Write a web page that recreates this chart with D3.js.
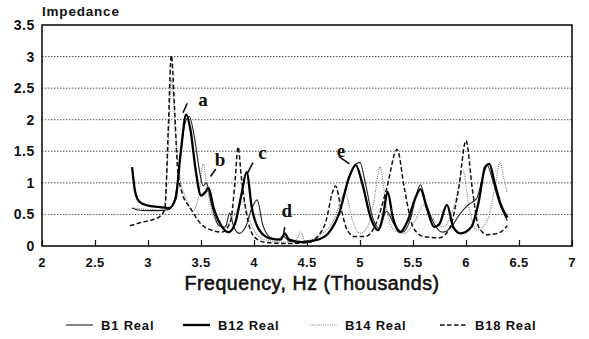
<!DOCTYPE html>
<html>
<head>
<meta charset="utf-8">
<script src="https://cdn.jsdelivr.net/npm/d3@7"></script>
<style>
  body { margin: 0; background: #fff; }
  svg { display: block; }
</style>
</head>
<body>
<div id="chart"></div>
<script>
// frequency in thousands of Hz, impedance
const b1Freq = [2.85, 2.9, 3.0, 3.1, 3.2, 3.26, 3.31, 3.35, 3.39, 3.44, 3.49, 3.52, 3.55, 3.6, 3.67, 3.73, 3.77, 3.81, 3.86, 3.92, 3.98, 4.03, 4.08, 4.15, 4.22, 4.28, 4.33, 4.45, 4.6, 4.7, 4.8, 4.9, 4.96, 5.0, 5.05, 5.12, 5.18, 5.25, 5.32, 5.4, 5.48, 5.53, 5.57, 5.62, 5.7, 5.78, 5.86, 5.94, 6.02, 6.1, 6.16, 6.2, 6.25, 6.31, 6.39];
const b1Val  = [0.6, 0.57, 0.56, 0.56, 0.58, 0.8, 1.5, 1.95, 2.05, 1.7, 1.15, 0.95, 1.0, 0.65, 0.32, 0.3, 0.52, 0.3, 0.2, 0.3, 0.6, 0.73, 0.35, 0.14, 0.1, 0.15, 0.08, 0.06, 0.1, 0.2, 0.5, 1.1, 1.3, 1.32, 1.0, 0.45, 0.28, 0.55, 0.35, 0.22, 0.45, 0.8, 0.97, 0.7, 0.35, 0.22, 0.3, 0.5, 0.65, 0.75, 1.1, 1.28, 1.05, 0.7, 0.4];

const b12Freq = [2.85, 2.88, 2.92, 3.0, 3.1, 3.2, 3.26, 3.31, 3.36, 3.4, 3.45, 3.5, 3.54, 3.57, 3.62, 3.7, 3.76, 3.82, 3.88, 3.93, 3.98, 4.05, 4.15, 4.25, 4.29, 4.33, 4.45, 4.6, 4.7, 4.8, 4.9, 4.96, 5.02, 5.1, 5.17, 5.22, 5.26, 5.31, 5.38, 5.45, 5.52, 5.57, 5.63, 5.7, 5.75, 5.82, 5.88, 5.95, 6.05, 6.12, 6.18, 6.22, 6.27, 6.33, 6.39];
const b12Val  = [1.25, 0.85, 0.7, 0.64, 0.62, 0.6, 0.75, 1.5, 2.08, 1.85, 1.2, 0.8, 0.85, 0.92, 0.6, 0.3, 0.22, 0.35, 0.8, 1.17, 0.6, 0.25, 0.12, 0.1, 0.2, 0.1, 0.06, 0.1, 0.2, 0.5, 1.1, 1.28, 1.0, 0.45, 0.25, 0.5, 0.86, 0.45, 0.22, 0.4, 0.75, 0.9, 0.6, 0.3, 0.35, 0.65, 0.3, 0.2, 0.3, 0.7, 1.25, 1.3, 1.0, 0.65, 0.45];

const b14Freq = [2.85, 3.0, 3.1, 3.15, 3.19, 3.22, 3.26, 3.3, 3.36, 3.42, 3.48, 3.52, 3.56, 3.62, 3.7, 3.78, 3.85, 3.9, 3.95, 4.0, 4.1, 4.3, 4.4, 4.44, 4.48, 4.6, 4.75, 4.86, 4.93, 5.0, 5.07, 5.13, 5.19, 5.25, 5.32, 5.42, 5.52, 5.6, 5.68, 5.78, 5.9, 5.97, 6.03, 6.1, 6.2, 6.27, 6.32, 6.36, 6.39];
const b14Val  = [0.6, 0.58, 0.57, 0.62, 1.5, 2.65, 1.8, 1.1, 0.75, 0.55, 0.8, 1.3, 0.9, 0.45, 0.3, 0.4, 0.6, 0.7, 0.45, 0.25, 0.1, 0.06, 0.1, 0.22, 0.08, 0.15, 0.4, 0.84, 0.4, 0.2, 0.3, 0.7, 1.25, 0.6, 0.25, 0.2, 0.4, 0.65, 0.45, 0.3, 0.7, 1.2, 0.6, 0.25, 0.4, 0.9, 1.33, 1.05, 0.84];

const b18Freq = [2.83, 2.95, 3.05, 3.12, 3.16, 3.19, 3.22, 3.25, 3.28, 3.32, 3.4, 3.5, 3.6, 3.7, 3.78, 3.82, 3.85, 3.88, 3.93, 4.0, 4.1, 4.3, 4.5, 4.6, 4.68, 4.74, 4.77, 4.82, 4.88, 4.95, 5.05, 5.15, 5.25, 5.35, 5.42, 5.5, 5.6, 5.75, 5.85, 5.93, 6.0, 6.06, 6.12, 6.2, 6.3, 6.39];
const b18Val  = [0.32, 0.38, 0.42, 0.48, 0.6, 1.8, 3.02, 2.2, 1.2, 0.85, 0.6, 0.35, 0.25, 0.22, 0.4, 1.0, 1.57, 1.1, 0.5, 0.15, 0.06, 0.04, 0.05, 0.15, 0.4, 0.85, 0.95, 0.6, 0.25, 0.15, 0.15, 0.35, 0.9, 1.53, 0.9, 0.3, 0.15, 0.13, 0.3, 0.9, 1.67, 0.9, 0.3, 0.18, 0.2, 0.32];

const xTicks = [2, 2.5, 3, 3.5, 4, 4.5, 5, 5.5, 6, 6.5, 7];
const yTicks = [0, 0.5, 1, 1.5, 2, 2.5, 3, 3.5];

const seriesNames = ["B1 Real", "B12 Real", "B14 Real", "B18 Real"];

// peak labels: letter, label position, pointer stroke
const noteText  = ["a", "b", "c", "d", "e"];
const noteAt    = [[3.52, 2.32], [3.68, 1.37], [4.08, 1.49], [4.31, 0.57], [4.82, 1.52]];
const notePoint = [[[3.33, 2.11], [3.37, 2.26]], [[3.59, 1.1], [3.64, 1.22]], [[3.94, 1.16], [3.99, 1.32]], [[4.28, 0.2], [4.29, 0.3]], [[4.8, 1.42], [4.9, 1.3]]];

const width = 589, height = 339;
const margin = {top: 25, right: 17, bottom: 93, left: 42};

const svg = d3.select("#chart").append("svg")
  .attr("width", width)
  .attr("height", height)
  .style("font-family", "'Liberation Sans', Arial, sans-serif");

const x = d3.scaleLinear().domain([2, 7]).range([margin.left, width - margin.right]);
const y = d3.scaleLinear().domain([0, 3.5]).range([height - margin.bottom, margin.top]);

// dotted grid lines
svg.append("g")
  .selectAll("line")
  .data(yTicks.filter(d => d > 0 && d < 3.5))
  .join("line")
  .attr("x1", x(2)).attr("x2", x(7))
  .attr("y1", d => y(d)).attr("y2", d => y(d))
  .attr("stroke", "#555")
  .attr("stroke-width", 1)
  .attr("stroke-dasharray", "1.5,1.5");

// inner ticks on the bottom axis
svg.append("g")
  .attr("transform", `translate(0, ${y(0)})`)
  .call(d3.axisBottom(x).tickValues(xTicks).tickSize(-6).tickFormat(""))
  .call(g => g.select(".domain").remove())
  .selectAll("line").attr("stroke", "#111").attr("stroke-width", 1.2);

const line = (fs, vs) => d3.line()
  .x((d, i) => x(fs[i]))
  .y(d => y(d))
  .curve(d3.curveMonotoneX)(vs);

const styles = [
  {stroke: "#222", width: 1.1, dash: null},
  {stroke: "#000", width: 2.3, dash: null},
  {stroke: "#777", width: 1.1, dash: "1,1.2"},
  {stroke: "#111", width: 1.5, dash: "4.5,2.5"}
];
const series = [[b1Freq, b1Val], [b12Freq, b12Val], [b14Freq, b14Val], [b18Freq, b18Val]];

const drawOrder = [2, 3, 0, 1];
drawOrder.forEach(i => {
  svg.append("path")
    .attr("d", line(series[i][0], series[i][1]))
    .attr("fill", "none")
    .attr("stroke", styles[i].stroke)
    .attr("stroke-width", styles[i].width)
    .attr("stroke-dasharray", styles[i].dash)
    .attr("stroke-linejoin", "round");
});

// frame
svg.append("rect")
  .attr("x", x(2)).attr("y", y(3.5))
  .attr("width", x(7) - x(2)).attr("height", y(0) - y(3.5))
  .attr("fill", "none").attr("stroke", "#111").attr("stroke-width", 1.6);

// y tick labels
svg.append("g")
  .selectAll("text")
  .data(yTicks)
  .join("text")
  .attr("x", x(2) - 7)
  .attr("y", d => y(d))
  .attr("dy", "0.36em")
  .attr("text-anchor", "end")
  .attr("font-size", 14)
  .attr("font-weight", "bold")
  .attr("letter-spacing", 0.6)
  .attr("fill", "#111")
  .text(d => d);

// x tick labels
svg.append("g")
  .selectAll("text")
  .data(xTicks)
  .join("text")
  .attr("x", d => x(d))
  .attr("y", y(0) + 21)
  .attr("text-anchor", "middle")
  .attr("font-size", 13)
  .attr("font-weight", "bold")
  .attr("letter-spacing", 0.3)
  .attr("fill", "#111")
  .text(d => d);

svg.append("text")
  .attr("x", x(2))
  .attr("y", 16)
  .attr("font-size", 13.5)
  .attr("font-weight", "bold")
  .attr("letter-spacing", 0.8)
  .attr("fill", "#111")
  .text("Impedance");

svg.append("text")
  .attr("x", 312)
  .attr("y", y(0) + 44)
  .attr("text-anchor", "middle")
  .attr("font-size", 19.5)
  .attr("letter-spacing", 0.6)
  .attr("fill", "#111")
  .attr("stroke", "#111")
  .attr("stroke-width", 0.6)
  .text("Frequency, Hz (Thousands)");

// peak annotations
const notes = svg.append("g");
noteText.forEach((t, i) => {
  notes.append("text")
    .attr("x", x(noteAt[i][0]))
    .attr("y", y(noteAt[i][1]))
    .attr("dy", "0.35em")
    .attr("text-anchor", "middle")
    .attr("font-family", "'Liberation Serif', 'Times New Roman', serif")
    .attr("font-size", 19)
    .attr("font-weight", "bold")
    .attr("fill", "#111")
    .text(t);
  notes.append("line")
    .attr("x1", x(notePoint[i][0][0])).attr("y1", y(notePoint[i][0][1]))
    .attr("x2", x(notePoint[i][1][0])).attr("y2", y(notePoint[i][1][1]))
    .attr("stroke", "#111").attr("stroke-width", 1.6);
});

// legend
const legendX = [66, 183, 310, 440];
const legend = svg.append("g").attr("transform", "translate(0, 325)");
seriesNames.forEach((name, i) => {
  legend.append("line")
    .attr("x1", legendX[i]).attr("x2", legendX[i] + 27)
    .attr("y1", 0).attr("y2", 0)
    .attr("stroke", styles[i].stroke)
    .attr("stroke-width", styles[i].width)
    .attr("stroke-dasharray", styles[i].dash);
  legend.append("text")
    .attr("x", legendX[i] + 35)
    .attr("y", 0)
    .attr("dy", "0.36em")
    .attr("font-size", 13)
    .attr("font-weight", "bold")
    .attr("letter-spacing", 0.8)
    .attr("fill", "#111")
    .text(name);
});
</script>
</body>
</html>
